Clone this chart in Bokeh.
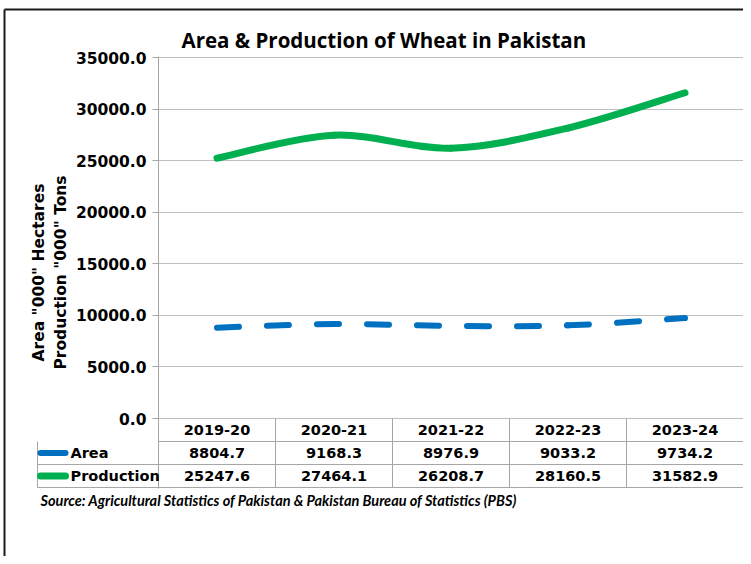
import math
from bokeh.plotting import figure
from bokeh.models import (FactorRange, Range1d, FixedTicker, PrintfTickFormatter,
                          ColumnDataSource, Title)
from bokeh.core.properties import value
from bokeh.embed import file_html
from bokeh.resources import INLINE

# ---------------- data ----------------
years = ["2019-20", "2020-21", "2021-22", "2022-23", "2023-24"]
series_names = ["Area", "Production"]
area = [8804.7, 9168.3, 8976.9, 9033.2, 9734.2]
production = [25247.6, 27464.1, 26208.7, 28160.5, 31582.9]
y_ticks = [0, 5000, 10000, 15000, 20000, 25000, 30000, 35000]

TITLE = "Area & Production of Wheat in Pakistan"
Y_TITLE = 'Area "000" Hectares\nProduction "000" Tons'
SOURCE = "Source: Agricultural Statistics of Pakistan & Pakistan Bureau of Statistics (PBS)"

# ---------------- layout constants (pixels) ----------------
W, H = 743, 556
FL = 158            # frame left
FW = 585            # frame width
FT = 56             # frame top
TOP_PAD = 1
PLOT_H = 361        # px between 0 and 35000
ROW = 23            # table row height
FH = TOP_PAD + PLOT_H + 3 * ROW + 1
ZERO_Y = FT + TOP_PAD + PLOT_H      # canvas y of the value 0
Y_MAX = y_ticks[-1]
UPP = Y_MAX / PLOT_H                # data units per pixel
PX_X = FW / len(years)              # px per category


def sx(px):      # canvas x -> synthetic categorical coordinate
    return (px - FL) / PX_X


def sy(py):      # canvas y -> data y
    return (ZERO_Y - py) * UPP


BLUE = "#0070C0"
GREEN = "#00B050"
GRID = "#BFBFBF"
TBL = "#A6A6A6"
NUM_FONT = "DejaVu Sans"
TXT_FONT = "Open Sans"

p = figure(width=W, height=H,
           x_range=FactorRange(factors=years, range_padding=0),
           y_range=Range1d(sy(FT + FH), sy(FT)),
           output_backend="svg", toolbar_location=None,
           min_border_left=FL, min_border_right=W - FL - FW,
           min_border_top=FT, min_border_bottom=H - FT - FH)
p.background_fill_color = "white"
p.border_fill_color = "white"
p.outline_line_color = None

# title
p.title.text = TITLE
p.title.text_font = TXT_FONT
p.title.text_font_style = "bold"
p.title.text_font_size = "20.5px"
p.title.text_color = "black"
p.title.align = "left"
p.title.offset = 23
p.title.standoff = 6

# axes
p.xaxis.visible = False
p.xgrid.visible = False
yax = p.yaxis[0]
yax.ticker = FixedTicker(ticks=y_ticks)
yax.formatter = PrintfTickFormatter(format="%.1f")
yax.major_label_text_font = NUM_FONT
yax.major_label_text_font_style = "bold"
yax.major_label_text_font_size = "15.5px"
yax.major_label_text_color = "black"
yax.major_label_standoff = 6
yax.major_tick_out = 6
yax.major_tick_in = 0
yax.minor_tick_out = 0
yax.minor_tick_in = 0
yax.major_tick_line_color = TBL
yax.axis_line_color = TBL
yax.axis_label = Y_TITLE
yax.axis_label_text_font = NUM_FONT
yax.axis_label_text_font_style = "bold"
yax.axis_label_text_font_size = "15.5px"
yax.axis_label_text_color = "black"
yax.axis_label_standoff = 3
p.ygrid.grid_line_color = GRID
p.ygrid.ticker = FixedTicker(ticks=y_ticks)


# smooth (Excel-like) bezier segments through the data points
def bezier_source(vals, period):
    n = len(vals)
    xs = [i + 0.5 for i in range(n)]
    cols = {k: [] for k in ["x0", "y0", "x1", "y1", "cx0", "cy0", "cx1", "cy1", "off"]}
    cum = 0.0
    for i in range(n - 1):
        a, b = max(i - 1, 0), min(i + 2, n - 1)
        cols["x0"].append(xs[i]); cols["y0"].append(vals[i])
        cols["x1"].append(xs[i + 1]); cols["y1"].append(vals[i + 1])
        cols["cx0"].append(xs[i] + (xs[i + 1] - xs[a]) / 6)
        cols["cy0"].append(vals[i] + (vals[i + 1] - vals[a]) / 6)
        cols["cx1"].append(xs[i + 1] - (xs[b] - xs[i]) / 6)
        cols["cy1"].append(vals[i + 1] - (vals[b] - vals[i]) / 6)
        cols["off"].append(int(round(cum)) % period)
        cum += math.hypot(PX_X, (vals[i + 1] - vals[i]) / UPP)
    return ColumnDataSource(cols)


r_prod = p.bezier(x0="x0", y0="y0", x1="x1", y1="y1", cx0="cx0", cy0="cy0",
                  cx1="cx1", cy1="cy1", source=bezier_source(production, 50),
                  line_color=GREEN, line_width=7, line_cap="round")
r_area = p.bezier(x0="x0", y0="y0", x1="x1", y1="y1", cx0="cx0", cy0="cy0",
                  cx1="cx1", cy1="cy1", source=bezier_source(area, 50),
                  line_color=BLUE, line_width=6, line_cap="round",
                  line_dash="22 28", line_dash_offset="off")

# ---------------- data table ----------------
row_lines = [sy(ZERO_Y + (k + 1) * ROW) for k in range(3)]
p.segment(x0=[0] * 3, x1=[len(years)] * 3, y0=row_lines, y1=row_lines,
          line_color=TBL, line_width=1)
vx = list(range(1, len(years) + 1))
p.segment(x0=vx, x1=vx, y0=[0] * len(vx), y1=[row_lines[-1]] * len(vx),
          line_color=TBL, line_width=1)

row_mid = [sy(ZERO_Y + (k + 0.5) * ROW) for k in range(3)]
rows = [years, [f"{v:.1f}" for v in area], [f"{v:.1f}" for v in production]]
for texts, ym in zip(rows, row_mid):
    p.text(x=years, y=[ym] * len(years), text=texts,
           text_align="center", text_baseline="middle",
           text_font=value(NUM_FONT), text_font_style="bold",
           text_font_size="14.5px", text_color="black")

# left column of the table: legend keys (drawn above the frame clip)
KEY_L = 37
p.segment(x0=[sx(KEY_L)] * 2, x1=[0] * 2, y0=row_lines[1:], y1=row_lines[1:],
          line_color=TBL, line_width=1, level="overlay")
p.segment(x0=[sx(KEY_L)], x1=[sx(KEY_L)], y0=[row_lines[0]], y1=[row_lines[2]],
          line_color=TBL, line_width=1, level="overlay")
p.segment(x0=[sx(KEY_L + 3)] * 2, x1=[sx(KEY_L + 28)] * 2,
          y0=row_mid[1:], y1=row_mid[1:], line_color=[BLUE, GREEN],
          line_width=[6, 7], line_cap="round", level="overlay")
p.text(x=[sx(KEY_L + 33)] * 2, y=row_mid[1:], text=series_names,
       text_align="left", text_baseline="middle",
       text_font=value(NUM_FONT), text_font_style="bold",
       text_font_size="14.5px", text_color="black", level="overlay")

# outer chart border (left and top edges)
p.segment(x0=[sx(4), sx(4)], x1=[sx(4), sx(W + 20)],
          y0=[sy(9), sy(9)], y1=[sy(H + 20), sy(9)],
          line_color="#1A1A1A", line_width=2, level="overlay")

# source note
p.add_layout(Title(text=SOURCE, align="left", offset=40 - FL, standoff=2,
                   text_font="Lato", text_font_style="bold italic",
                   text_font_size="14.5px", text_color="black"), "below")

open("out.html", "w").write(file_html(p, INLINE))
